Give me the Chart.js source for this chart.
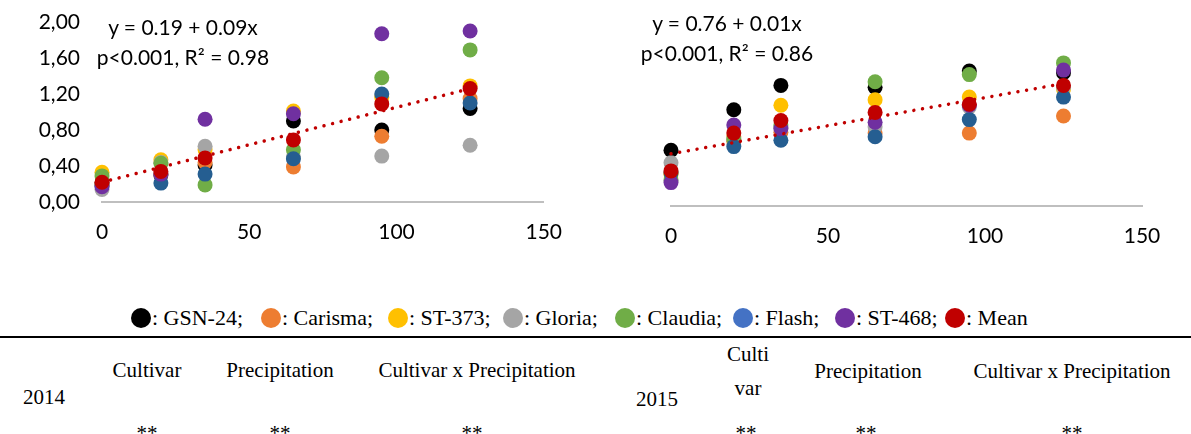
<!DOCTYPE html>
<html>
<head>
<meta charset="utf-8">
<script src="https://cdn.jsdelivr.net/npm/chart.js@4.4.0/dist/chart.umd.min.js"></script>
<style>
  body { margin: 0; width: 1191px; height: 434px; background: #fff; position: relative; overflow: hidden; font-family: 'Liberation Serif', 'Times New Roman', serif; color: #000; }
  .box { position: absolute; }
  .eq { position: absolute; font-family: Lato, sans-serif; font-size: 21px; line-height: 30px; text-align: center; white-space: nowrap; width: 300px; }
  .leg { position: absolute; top: 306px; height: 24px; font-size: 22px; line-height: 24px; white-space: nowrap; }
  .leg i { position: absolute; left: -10px; top: 2px; width: 20px; height: 20px; border-radius: 50%; }
  .leg span { position: absolute; left: 11px; top: 0; }
  .cell { position: absolute; width: 300px; text-align: center; font-size: 21px; line-height: 24px; white-space: nowrap; }
  .rule { position: absolute; left: 0; top: 336px; width: 1191px; height: 2px; background: #000; }
</style>
</head>
<body>
<div class="box" style="left:0;top:0;width:580px;height:262px"><canvas id="chart2014"></canvas></div>
<div class="box" style="left:580px;top:0;width:611px;height:266px"><canvas id="chart2015"></canvas></div>

<div class="eq" style="left:33px;top:12px">y = 0.19 + 0.09x<br>p&lt;0.001, R² = 0.98</div>
<div class="eq" style="left:577px;top:8px">y = 0.76 + 0.01x<br>p&lt;0.001, R² = 0.86</div>

<div id="legend"></div>
<div class="rule"></div>
<div id="table"></div>

<script>
// precipitation levels (x axis)
const levels = [0, 20, 35, 65, 95, 125];
const cultivars = ['GSN-24', 'Carisma', 'ST-373', 'Gloria', 'Claudia', 'Flash', 'ST-468', 'Mean'];

// 2014 (left panel)
const gsn2014     = [0.21, 0.30, 0.41, 0.90, 0.80, 1.04];
const carisma2014 = [0.19, 0.31, 0.44, 0.39, 0.73, 1.15];
const st373_2014  = [0.33, 0.47, 0.58, 1.01, 1.16, 1.29];
const gloria2014  = [0.14, 0.44, 0.62, 0.50, 0.51, 0.63];
const claudia2014 = [0.29, 0.43, 0.19, 0.58, 1.38, 1.69];
const flash2014   = [0.18, 0.21, 0.31, 0.48, 1.20, 1.10];
const st468_2014  = [0.17, 0.31, 0.92, 0.98, 1.87, 1.90];
const mean2014    = [0.22, 0.34, 0.49, 0.69, 1.09, 1.26];

// 2015 (right panel)
const gsn2015     = [0.62, 1.07, 1.34, 1.32, 1.50, 1.48];
const carisma2015 = [0.36, 0.72, 0.82, 0.81, 0.81, 1.00];
const st373_2015  = [0.35, 0.77, 1.12, 1.18, 1.21, 1.30];
const gloria2015  = [0.48, 0.75, 0.87, 0.88, 1.10, 1.32];
const claudia2015 = [0.29, 0.74, 0.90, 1.38, 1.46, 1.59];
const flash2015   = [0.37, 0.66, 0.73, 0.77, 0.96, 1.21];
const st468_2015  = [0.26, 0.90, 0.86, 0.93, 1.12, 1.51];
const mean2015    = [0.39, 0.81, 0.95, 1.04, 1.13, 1.34];

// linear trend of the means, end points
const trendX    = [0, 125];
const trend2014 = [0.22, 1.26];
const trend2015 = [0.58, 1.36];

const xTicks = [0, 50, 100, 150];
const yTicks = [0, 0.4, 0.8, 1.2, 1.6, 2.0];

const pointColors  = ['#000000', '#ED7D31', '#FFC000', '#A5A5A5', '#70AD47', '#255E91', '#7030A0', '#C00000'];
const legendColors = ['#000000', '#ED7D31', '#FFC000', '#A5A5A5', '#70AD47', '#4472C4', '#7030A0', '#C00000'];

const series2014 = [gsn2014, carisma2014, st373_2014, gloria2014, claudia2014, flash2014, st468_2014, mean2014];
const series2015 = [gsn2015, carisma2015, st373_2015, gloria2015, claudia2015, flash2015, st468_2015, mean2015];

function makeChart(id, series, trend, showY, yWidth, pad) {
    const datasets = series.map((vals, i) => ({
        label: cultivars[i],
        data: vals.map((v, j) => ({ x: levels[j], y: v })),
        backgroundColor: pointColors[i],
        borderColor: pointColors[i],
        pointRadius: 7.5,
        pointBorderWidth: 0,
        clip: false,
        // later series on top, mean top-most
        order: i === 7 ? 0 : 2 + (6 - i)
    }));
    datasets.push({
        type: 'line',
        label: 'trend',
        data: trendX.map((x, j) => ({ x: x, y: trend[j] })),
        borderColor: '#C00000',
        borderWidth: 3.5,
        borderDash: [0.01, 8.8],
        borderCapStyle: 'round',
        pointRadius: 0,
        fill: false,
        clip: false,
        order: 1
    });

    return new Chart(document.getElementById(id), {
        type: 'scatter',
        data: { datasets: datasets },
        options: {
            responsive: true,
            maintainAspectRatio: false,
            animation: false,
            layout: { padding: pad },
            plugins: { legend: { display: false }, tooltip: { enabled: false } },
            scales: {
                x: {
                    type: 'linear',
                    min: 0,
                    max: 150,
                    afterBuildTicks: s => { s.ticks = xTicks.map(v => ({ value: v })); },
                    ticks: { font: { family: 'Lato', size: 21 }, color: '#000', padding: 18 },
                    grid: { display: false, drawTicks: false },
                    border: { display: true, color: '#BFBFBF', width: 2 },
                    afterFit: s => { s.height = 60; }
                },
                y: {
                    min: 0,
                    max: 2,
                    afterBuildTicks: s => { s.ticks = yTicks.map(v => ({ value: v })); },
                    ticks: {
                        display: showY,
                        font: { family: 'Lato', size: 21 },
                        color: '#000',
                        padding: 22,
                        callback: v => v.toFixed(2).replace('.', ',')
                    },
                    grid: { display: false, drawTicks: false },
                    border: { display: false },
                    // fixed width; label overflow is already covered by the layout padding
                    afterFit: s => { s.width = yWidth; s.paddingTop = 0; s.paddingBottom = 0; }
                }
            }
        }
    });
}

makeChart('chart2014', series2014, trend2014, true, 102, { top: 22, right: 34, bottom: 0, left: 0 });
makeChart('chart2015', series2015, trend2015, false, 91, { top: 26, right: 49, bottom: 0, left: 0 });

// legend row
const legendX = [141, 271, 398, 513, 625, 743, 845, 955];
const legend = document.getElementById('legend');
cultivars.forEach((name, i) => {
    const item = document.createElement('div');
    item.className = 'leg';
    item.style.left = legendX[i] + 'px';
    item.innerHTML = '<i style="background:' + legendColors[i] + '"></i><span>: ' + name + (i < 7 ? ';' : '') + '</span>';
    legend.appendChild(item);
});

// significance table under the charts
const cells = [
    ['Cultivar', 147, 370], ['Precipitation', 280, 370], ['Cultivar x Precipitation', 477, 370],
    ['2014', 44, 397], ['**', 147, 433], ['**', 280, 433], ['**', 472, 433],
    ['2015', 657, 399], ['Culti', 748, 354], ['var', 748, 388], ['Precipitation', 868, 371],
    ['Cultivar x Precipitation', 1072, 371], ['**', 746, 433], ['**', 866, 433], ['**', 1072, 433]
];
const table = document.getElementById('table');
cells.forEach(c => {
    const d = document.createElement('div');
    d.className = 'cell';
    d.textContent = c[0];
    d.style.left = (c[1] - 150) + 'px';
    d.style.top = (c[2] - 12) + 'px';
    table.appendChild(d);
});
</script>
</body>
</html>
